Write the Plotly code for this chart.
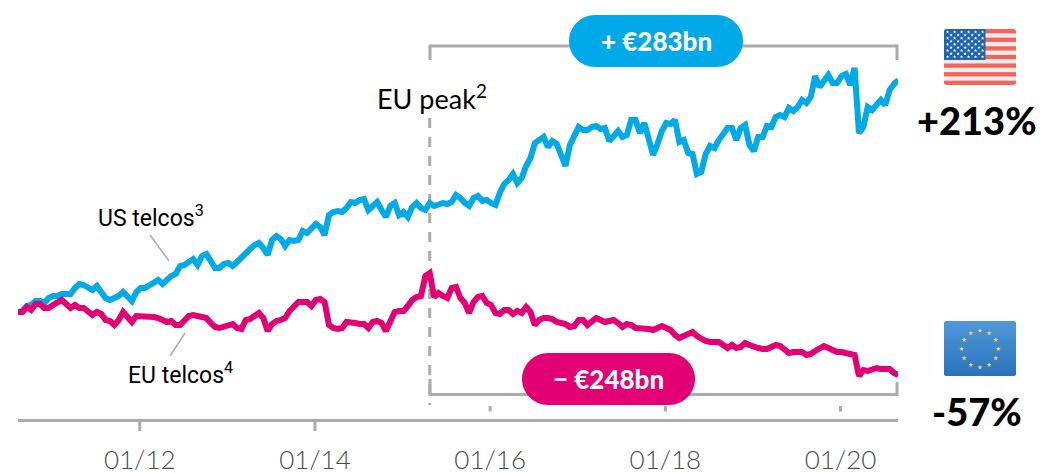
import base64, math
import numpy as np
import plotly.graph_objects as go

START_YEAR = 2010.61
STEP_YEARS = 0.05
us_telcos = [
107,108,113,114,118,118,116,121,123,123,
125,125,125,131,135,134,132,129,133,127,
121,119,121,123,127,122,118,127,131,131,
134,137,139,135,140,143,145,153,154,157,
160,154,163,165,159,151,151,155,156,153,
157,162,166,170,174,176,171,164,179,183,
180,173,179,178,179,188,186,191,195,192,
184,204,207,208,207,211,217,216,219,220,
209,213,217,209,202,213,216,204,207,202,
212,216,211,209,216,213,215,216,215,217,
224,221,216,213,221,223,218,219,216,214,
226,235,239,245,236,241,253,261,276,280,
282,272,278,275,265,253,274,284,292,289,
289,292,293,290,291,278,282,288,282,284,
299,299,286,296,280,264,275,288,296,295,
299,277,279,266,265,245,247,265,273,271,
279,284,291,291,279,291,294,274,268,282,
282,293,292,302,304,302,311,308,312,319,
316,322,343,332,339,344,336,336,343,345,
334,351,286,292,312,309,314,319,314,329,
335,339]
eu_telcos = [
107,107,112,109,115,115,111,111,114,117,
119,115,111,114,111,111,108,104,107,105,
99,98,94,99,107,101,97,103,103,103,
102,102,101,99,97,98,94,94,99,103,
104,103,102,101,96,92,91,92,94,95,
91,90,99,100,103,106,101,88,95,98,
99,101,108,112,117,117,117,113,119,120,
117,94,91,90,91,97,97,96,95,95,
91,97,98,96,88,98,107,108,108,113,
119,122,123,143,146,122,126,123,121,131,
132,121,116,106,117,122,123,116,114,106,
105,109,109,105,108,106,112,107,94,99,
101,101,100,97,96,95,92,93,99,99,
94,98,101,99,97,98,99,96,92,95,
94,91,91,90,90,89,91,93,91,89,
84,81,83,85,87,83,80,78,77,77,
77,74,71,74,71,72,76,74,72,71,
70,70,72,74,73,70,66,67,67,67,
64,65,68,71,73,71,69,67,67,66,
65,64,43,49,48,49,51,50,50,50,
46,44]
tick_years = [2012, 2014, 2016, 2018, 2020]
tick_labels = ["01/12", "01/14", "01/16", "01/18", "01/20"]
EU_PEAK_YEAR = 2015.31

years = START_YEAR + STEP_YEARS * np.arange(len(us_telcos))

W, H = 1040, 473
BLUE, MAGENTA, GREY = "#00A9E8", "#E20074", "#ABABAB"
def px(x): return x / W
def py(y): return 1 - y / H

def pill(x0, x1, y0, y1, color):
    r = (y1 - y0) / 2
    k = 0.45 * r
    def P(x, y): return f"{px(x):.5f},{py(y):.5f}"
    path = (f"M{P(x0+r,y0)} L{P(x1-r,y0)} "
            f"C{P(x1-k,y0)} {P(x1,y0+k)} {P(x1,y0+r)} "
            f"C{P(x1,y1-k)} {P(x1-k,y1)} {P(x1-r,y1)} "
            f"L{P(x0+r,y1)} "
            f"C{P(x0+k,y1)} {P(x0,y1-k)} {P(x0,y0+r)} "
            f"C{P(x0,y0+k)} {P(x0+k,y0)} {P(x0+r,y0)} Z")
    return dict(type="path", path=path, xref="paper", yref="paper",
                fillcolor=color, line=dict(color=color, width=0), layer="above")

def seg(x0, y0, x1, y1, color=GREY, width=3, dash=None):
    return dict(type="line", xref="paper", yref="paper", x0=px(x0), y0=py(y0),
                x1=px(x1), y1=py(y1),
                line=dict(color=color, width=width, **({"dash": dash} if dash else {})))

def star_pts(cx, cy, r):
    pts = []
    for i in range(10):
        a = -math.pi / 2 + i * math.pi / 5
        rr = r if i % 2 == 0 else r * 0.42
        pts.append(f"{cx + rr*math.cos(a):.2f},{cy + rr*math.sin(a):.2f}")
    return " ".join(pts)

def data_uri(svg):
    return "data:image/svg+xml;base64," + base64.b64encode(svg.encode()).decode()

def us_flag():
    s = ['<svg xmlns="http://www.w3.org/2000/svg" width="72" height="56" viewBox="0 0 72 56">',
         '<defs><clipPath id="c"><rect width="72" height="56" rx="3"/></clipPath></defs><g clip-path="url(#c)">',
         '<rect width="72" height="56" fill="#EFEDEC"/>']
    h = 56 / 13
    for i in range(0, 13, 2):
        s.append(f'<rect y="{i*h:.2f}" width="72" height="{h:.2f}" fill="#F6635A"/>')
    s.append('<rect width="41.5" height="31" fill="#1F66AE"/>')
    for row in range(9):
        n = 6 if row % 2 == 0 else 5
        for c in range(n):
            x = 3.6 + c * 7 + (0 if row % 2 == 0 else 3.5)
            y = 3 + row * 3.1
            s.append(f'<polygon points="{star_pts(x, y, 1.8)}" fill="#FFFFFF"/>')
    s.append('</g></svg>')
    return data_uri("".join(s))

def eu_flag():
    s = ['<svg xmlns="http://www.w3.org/2000/svg" width="72" height="55" viewBox="0 0 72 55">',
         '<defs><linearGradient id="g" x1="0" y1="0" x2="0" y2="1">',
         '<stop offset="0" stop-color="#5098D8"/><stop offset="1" stop-color="#2A73BB"/></linearGradient></defs>',
         '<rect width="72" height="55" rx="2" fill="url(#g)"/>']
    for i in range(12):
        a = i * math.pi / 6
        s.append(f'<polygon points="{star_pts(36 + 18.3*math.sin(a), 28 - 18.3*math.cos(a), 2.6)}" fill="#F7D84B"/>')
    s.append('</svg>')
    return data_uri("".join(s))

fig = go.Figure()
fig.add_trace(go.Scatter(x=years, y=us_telcos, mode="lines", name="US telcos", cliponaxis=False,
                         line=dict(color=BLUE, width=6, shape="linear"), hoverinfo="skip"))
fig.add_trace(go.Scatter(x=years, y=eu_telcos, mode="lines", name="EU telcos", cliponaxis=False,
                         line=dict(color=MAGENTA, width=6, shape="linear"), hoverinfo="skip"))

shapes = [
    dict(type="line", xref="x", yref="paper", x0=EU_PEAK_YEAR, x1=EU_PEAK_YEAR, y0=py(118), y1=py(405),
         line=dict(color=GREY, width=3, dash="10px,9px"), layer="below"),
    seg(430, 46, 897.5, 46), seg(430, 44.5, 430, 60), seg(897, 44.5, 897, 60),
    seg(430, 394.5, 897.5, 394.5), seg(430, 379, 430, 396), seg(897, 382, 897, 396),
    seg(150, 235, 169, 261, width=1.5), seg(185, 333, 170, 356, width=1.5),
    pill(569, 743, 15, 67, BLUE), pill(522, 695, 353, 405, MAGENTA),
]
for yr in tick_years[:2]:
    shapes.append(dict(type="line", xref="x", yref="paper", x0=yr, x1=yr, y0=py(419), y1=py(431),
                       line=dict(color=GREY, width=3)))
for yr in tick_years[2:]:
    shapes.append(dict(type="line", xref="x", yref="paper", x0=yr, x1=yr, y0=py(406), y1=py(411.5),
                       line=dict(color=GREY, width=3)))

HEAVY = "Lato Black, Lato"

def note(text, x, y, size, color="#000000", family="Lato", anchor="center"):
    return dict(text=text, xref="paper", yref="paper", x=px(x), y=py(y), showarrow=False,
                xanchor=anchor, yanchor="middle", font=dict(family=family, size=size, color=color))

annotations = [
    note("<b>+ €283bn</b>", 656, 41, 26, "#FFFFFF", family=HEAVY),
    note("<b>− €248bn</b>", 608, 379, 26, "#FFFFFF", family=HEAVY),
    note("EU peak<sup>2</sup>", 432, 97, 27),
    note("US telcos<sup>3</sup>", 151, 216, 23, family="Roboto"),
    note("EU telcos<sup>4</sup>", 180, 373, 23, family="Roboto"),
    note("<b>+213%</b>", 977, 120, 38, family=HEAVY),
    note("<b>-57%</b>", 977, 411, 38, family=HEAVY),
]

fig.update_layout(
    width=W, height=H, margin=dict(l=0, r=0, t=0, b=0), autosize=False,
    paper_bgcolor="white", plot_bgcolor="white", showlegend=False,
    xaxis=dict(domain=[18 / W, 898 / W], range=[START_YEAR, START_YEAR + 880 / 87.6], automargin=False,
               showgrid=False, zeroline=False, showline=True, linecolor=GREY, linewidth=3,
               anchor="y", tickmode="array", tickvals=tick_years, ticktext=tick_labels, ticks="",
               tickfont=dict(family="Lato Light, Lato", size=26, color="#4A4A4A"), ticklabelstandoff=16),
    yaxis=dict(domain=[54 / H, 1], range=[0, 419], visible=False, fixedrange=True, automargin=False),
    shapes=shapes, annotations=annotations,
    images=[
        dict(source=us_flag(), xref="paper", yref="paper", x=px(944), y=py(29), sizex=72 / W, sizey=56 / H,
             xanchor="left", yanchor="top", sizing="stretch", layer="above"),
        dict(source=eu_flag(), xref="paper", yref="paper", x=px(944), y=py(321), sizex=72 / W, sizey=55 / H,
             xanchor="left", yanchor="top", sizing="stretch", layer="above"),
    ],
)
fig.write_html("out.html", config=dict(displayModeBar=False),
               post_script="document.body.style.margin='0';")
